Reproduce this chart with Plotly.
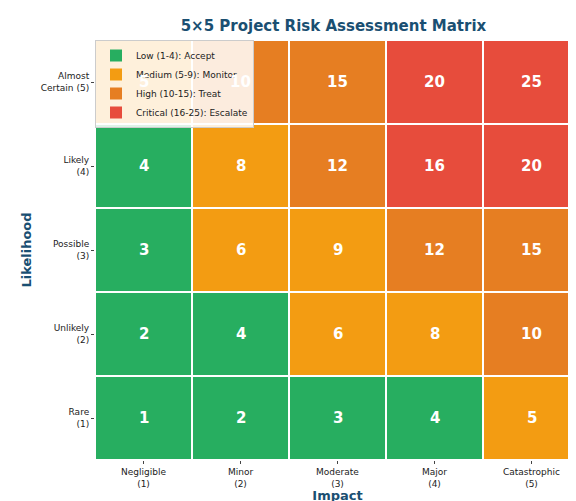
import plotly.graph_objects as go

impact = ["Negligible<br>(1)", "Minor<br>(2)", "Moderate<br>(3)", "Major<br>(4)", "Catastrophic<br>(5)"]
likelihood = ["Rare<br>(1)", "Unlikely<br>(2)", "Possible<br>(3)", "Likely<br>(4)", "Almost<br>Certain (5)"]
scores = [[i * l for i in range(1, 6)] for l in range(1, 6)]
level_names = ["Low (1-4): Accept", "Medium (5-9): Monitor", "High (10-15): Treat", "Critical (16-25): Escalate"]
level_colors = ["#27ae60", "#f39c12", "#e67e22", "#e74c3c"]

def level(v):
    return 0 if v <= 4 else 1 if v <= 9 else 2 if v <= 15 else 3

z = [[level(v) for v in row] for row in scores]
cs = []
for k, c in enumerate(level_colors):
    cs += [[k / 4, c], [(k + 1) / 4, c]]

fig = go.Figure()
fig.add_trace(go.Heatmap(z=z, x=impact, y=likelihood, colorscale=cs, zmin=-0.5, zmax=3.5,
                         showscale=False, xgap=2, ygap=2, hoverinfo="skip", showlegend=False))
for name, c in zip(level_names, level_colors):
    fig.add_trace(go.Scatter(x=[None], y=[None], mode="markers", name=name,
                             marker=dict(symbol="square", size=10, color=c)))
ann = []
for r, row in enumerate(scores):
    for ci, v in enumerate(row):
        ann.append(dict(x=impact[ci], y=likelihood[r], text=f"<b>{v}</b>", showarrow=False,
                        font=dict(color="white", size=15, family="DejaVu Sans")))
fig.update_layout(
    width=576, height=501, margin=dict(l=87, r=4, t=32, b=49),
    plot_bgcolor="white", paper_bgcolor="white",
    font=dict(family="DejaVu Sans", size=9, color="#222"),
    title=dict(text="<b>5×5 Project Risk Assessment Matrix</b>", x=0.565, y=0.975, xanchor="center",
               font=dict(size=15, color="#1a4f72")),
    xaxis=dict(title=dict(text="<b>Impact</b>", font=dict(size=13, color="#1a4f72"), standoff=2),
               showgrid=False, ticks="outside", ticklen=3, automargin=False),
    yaxis=dict(title=dict(text="<b>Likelihood</b>", font=dict(size=13, color="#1a4f72"), standoff=6),
               showgrid=False, ticks="outside", ticklen=3, automargin=False),
    annotations=ann,
    legend=dict(x=0.0, y=1.0, xanchor="left", yanchor="top", bgcolor="rgba(255,255,255,0.85)",
                bordercolor="#ccc", borderwidth=1, font=dict(size=9), tracegroupgap=0,
                itemwidth=30, itemsizing="constant"),
)
fig.write_html("out.html")
